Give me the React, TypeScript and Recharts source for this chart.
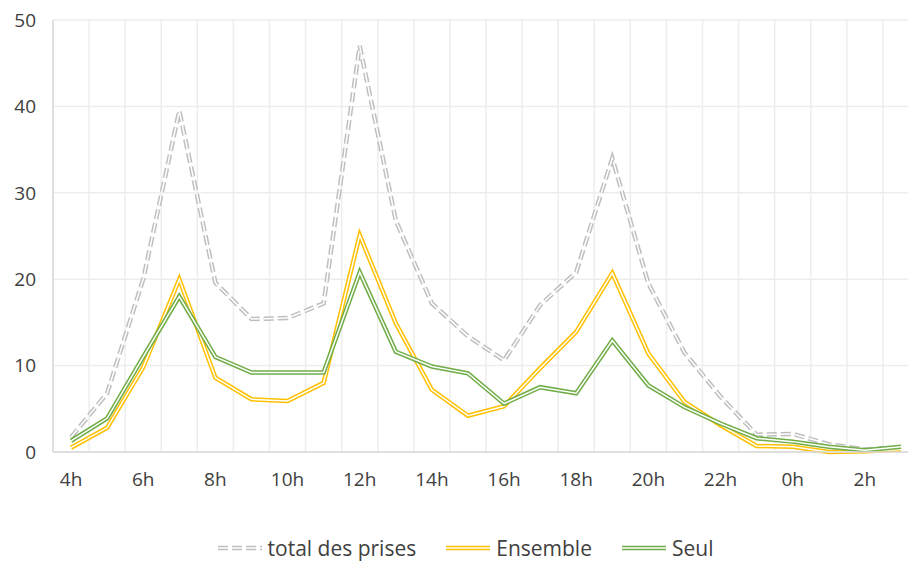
import { CartesianGrid, Legend, Line, LineChart, XAxis, YAxis } from 'recharts';

const hours = [
  '4h', '5h', '6h', '7h', '8h', '9h', '10h', '11h', '12h', '13h', '14h', '15h',
  '16h', '17h', '18h', '19h', '20h', '21h', '22h', '23h', '0h', '1h', '2h', '3h',
];

const totalPrises = [
  1.7, 6.8, 20, 39.5, 19.6, 15.4, 15.5, 17.2, 47, 26.8, 17.2, 13.4,
  10.6, 17, 20.8, 34, 19.5, 11.5, 6.4, 2, 2.1, 0.9, 0.3, 0.5,
];

const ensemble = [
  0.5, 2.8, 9.8, 20, 8.6, 6.1, 5.9, 8, 25.1, 14.9, 7.2, 4.2,
  5.3, 9.7, 13.9, 20.7, 11.4, 5.8, 3.1, 0.7, 0.6, 0, 0.1, 0.3,
];

const seul = [
  1.3, 3.9, 11, 18, 11, 9.2, 9.2, 9.2, 20.8, 11.6, 9.9, 9.1,
  5.6, 7.5, 6.8, 12.9, 7.7, 5.2, 3.3, 1.6, 1.2, 0.6, 0.2, 0.6,
];

const yTicks = [0, 10, 20, 30, 40, 50];

const data = hours.map((h, i) => ({
  hour: h,
  total: totalPrises[i],
  ensemble: ensemble[i],
  seul: seul[i],
}));

const FONT = '"Open Sans", "Noto Sans", sans-serif';
const TEXT = '#404040';
const GRAY = '#bfbfbf';
const YELLOW = '#ffc000';
const GREEN = '#70ad47';

const legendItems = [
  { label: 'total des prises', color: GRAY, dash: '10 4' },
  { label: 'Ensemble', color: YELLOW, dash: undefined },
  { label: 'Seul', color: GREEN, dash: undefined },
];

function DoubleLegend() {
  return (
    <div
      style={{
        display: 'flex',
        justifyContent: 'center',
        gap: 30,
        height: 28,
        fontFamily: FONT,
        fontSize: 21,
        color: TEXT,
        transform: 'translate(6px, -4px)',
      }}
    >
      {legendItems.map((it) => (
        <div key={it.label} style={{ display: 'flex', alignItems: 'center', gap: 6 }}>
          <svg width={44} height={10}>
            <line x1={0} y1={5} x2={44} y2={5} stroke={it.color} strokeWidth={4.5} strokeDasharray={it.dash} />
            <line x1={0} y1={5} x2={44} y2={5} stroke="#fff" strokeWidth={1.5} strokeDasharray={it.dash} />
          </svg>
          <span>{it.label}</span>
        </div>
      ))}
    </div>
  );
}

export default function App() {
  const series = [
    { key: 'total', color: GRAY, dash: '10 4' },
    { key: 'ensemble', color: YELLOW, dash: undefined },
    { key: 'seul', color: GREEN, dash: undefined },
  ];

  return (
    <div
      style={{
        position: 'absolute',
        left: 0,
        top: 0,
        width: 908,
        height: 566,
        overflow: 'hidden',
        background: '#fff',
      }}
    >
      <LineChart width={926} height={566} data={data} margin={{ top: 20, right: 7, left: 0, bottom: 0 }}>
        <CartesianGrid
          stroke="#ededed"
          strokeWidth={1.5}
          verticalCoordinatesGenerator={({ offset }: any) =>
            Array.from({ length: hours.length + 1 }, (_, i) => offset.left + (i * offset.width) / hours.length)
          }
        />
        <XAxis
          dataKey="hour"
          scale="band"
          interval={1}
          tickLine={false}
          axisLine={{ stroke: '#d9d9d9', strokeWidth: 1.5 }}
          tickMargin={15}
          height={86}
          tick={{ fill: TEXT, fontSize: 19, fontFamily: FONT }}
        />
        <YAxis
          domain={[0, 50]}
          ticks={yTicks}
          width={53}
          tickLine={false}
          axisLine={{ stroke: '#d9d9d9', strokeWidth: 1.5 }}
          tickMargin={11}
          tick={{ fill: TEXT, fontSize: 19, fontFamily: FONT }}
        />
        {series.flatMap((s) => [
          <Line
            key={s.key + '-outer'}
            type="linear"
            dataKey={s.key}
            stroke={s.color}
            strokeWidth={4.5}
            strokeDasharray={s.dash}
            dot={false}
            activeDot={false}
            legendType="none"
            isAnimationActive={false}
          />,
          <Line
            key={s.key + '-inner'}
            type="linear"
            dataKey={s.key}
            stroke="#fff"
            strokeWidth={1.5}
            strokeDasharray={s.dash}
            dot={false}
            activeDot={false}
            legendType="none"
            isAnimationActive={false}
          />,
        ])}
        <Legend verticalAlign="bottom" content={() => <DoubleLegend />} />
      </LineChart>
    </div>
  );
}
